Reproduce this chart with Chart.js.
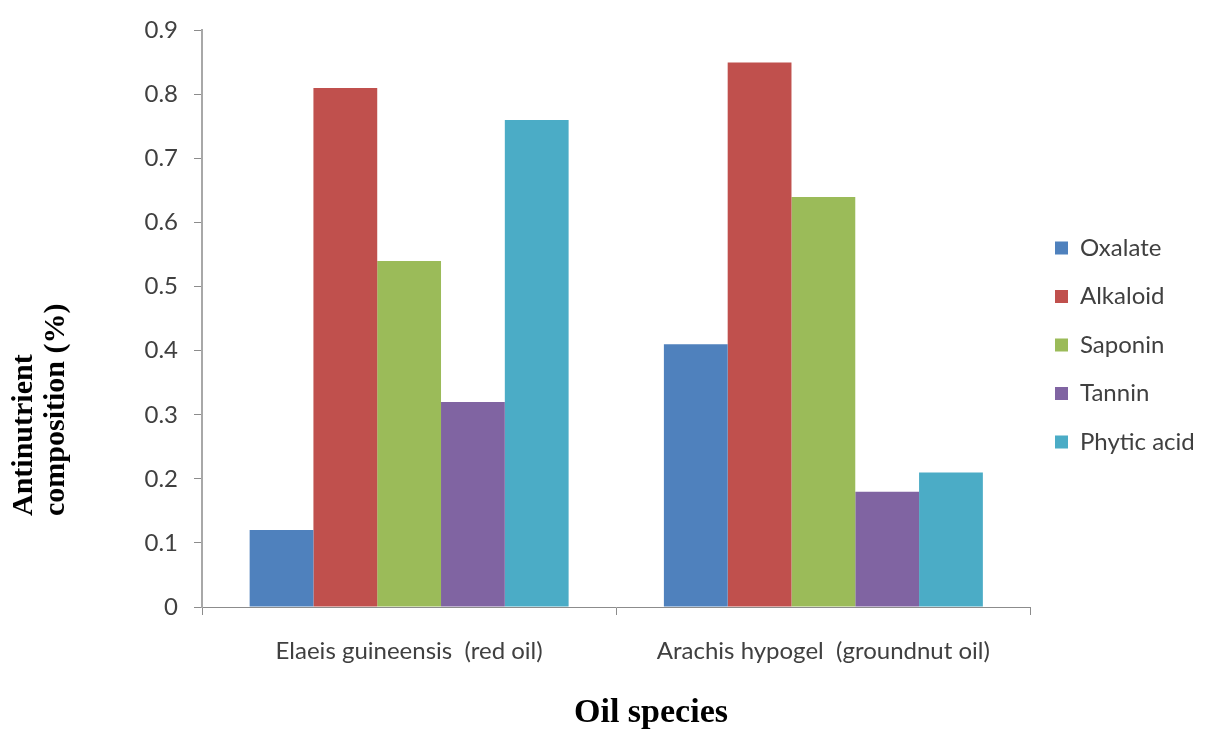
<!DOCTYPE html>
<html>
<head>
<meta charset="utf-8">
<script src="https://cdn.jsdelivr.net/npm/chart.js@4"></script>
<style>
  html, body { margin: 0; padding: 0; background: #fff; }
  #wrap { position: relative; width: 1208px; height: 731px; }
  canvas { position: absolute; left: 0; top: 0; }
  .axis-title { position: absolute; font-family: "Liberation Serif", serif; font-weight: bold; color: #000; white-space: pre; }
  #xTitle { left: 451px; width: 400px; top: 694px; font-size: 34px; line-height: 34px; text-align: center; }
  #yTitle { left: 6px; top: 516px; font-size: 30px; line-height: 32px; transform: rotate(-90deg); transform-origin: left top; }
</style>
</head>
<body>
<div id="wrap">
  <canvas id="chart" width="1208" height="731"></canvas>
  <div id="yTitle" class="axis-title">Antinutrient
composition (%)</div>
  <div id="xTitle" class="axis-title">Oil species</div>
</div>
<script>
// Data
const categories = ['Elaeis guineensis  (red oil)', 'Arachis hypogel  (groundnut oil)'];
const seriesNames = ['Oxalate', 'Alkaloid', 'Saponin', 'Tannin', 'Phytic acid'];
const oxalate = [0.12, 0.41];
const alkaloid = [0.81, 0.85];
const saponin = [0.54, 0.64];
const tannin = [0.32, 0.18];
const phyticAcid = [0.76, 0.21];
const yMin = 0;
const yMax = 0.9;
const yStep = 0.1;

// Office 2007 palette
const colors = ['#4F81BD', '#C0504D', '#9BBB59', '#8064A2', '#4BACC6'];
const seriesValues = [oxalate, alkaloid, saponin, tannin, phyticAcid];

const LABEL_FONT = { family: 'Lato', size: 24 };
const TICK_FONT = { family: 'Lato', size: 24 };
const TEXT_COLOR = '#404040';
const AXIS_COLOR = '#8c8c8c';

// legend text width decides how much room the legend takes
// (keep plot right edge at ~1030px)
const measure = document.createElement('canvas').getContext('2d');
measure.font = `${LABEL_FONT.size}px ${LABEL_FONT.family}`;
const legendTextW = Math.max(...seriesNames.map(s => measure.measureText(s).width));
const padRight = Math.max(0, 118 - legendTextW);

const ctx = document.getElementById('chart').getContext('2d');
new Chart(ctx, {
    type: 'bar',
    data: {
        labels: categories,
        datasets: seriesNames.map((name, i) => ({
            label: name,
            data: seriesValues[i],
            backgroundColor: colors[i],
            borderWidth: 0,
            barPercentage: 1,
            categoryPercentage: 0.77
        }))
    },
    options: {
        responsive: false,
        animation: false,
        layout: { padding: { top: 19, bottom: 60, left: 0, right: padRight } },
        plugins: {
            // empty title used as a 10px spacer above the plot only
            title: { display: true, text: '', fullSize: false, padding: 0, font: { size: 10, lineHeight: 1 } },
            legend: {
                position: 'right',
                align: 'center',
                labels: {
                    font: LABEL_FONT,
                    color: TEXT_COLOR,
                    boxWidth: 13,
                    boxHeight: 13,
                    padding: 24.5
                }
            },
            tooltip: { enabled: false }
        },
        scales: {
            x: {
                grid: { offset: true, drawOnChartArea: false, drawTicks: true, tickLength: 8, color: AXIS_COLOR },
                border: { display: true, color: AXIS_COLOR, width: 1 },
                ticks: { font: LABEL_FONT, color: TEXT_COLOR, padding: 22, maxRotation: 0 },
                afterFit: scale => { scale.height = 64; }
            },
            y: {
                min: yMin,
                max: yMax,
                grid: { drawOnChartArea: false, drawTicks: true, tickLength: 8, color: AXIS_COLOR },
                border: { display: true, color: '#a8a8a8', width: 2 },
                ticks: { stepSize: yStep, font: TICK_FONT, color: TEXT_COLOR, padding: 16 },
                afterFit: scale => { scale.width = 202; }
            }
        }
    }
});
</script>
</body>
</html>
